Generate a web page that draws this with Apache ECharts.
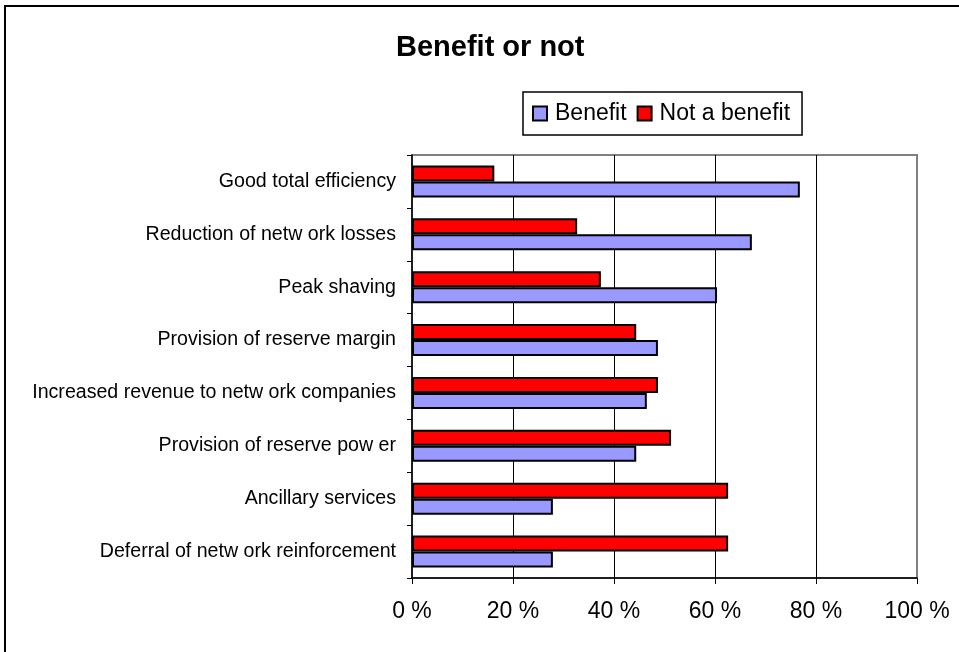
<!DOCTYPE html>
<html>
<head>
<meta charset="utf-8">
<title>Benefit or not</title>
<script src="https://cdn.jsdelivr.net/npm/echarts@6/dist/echarts.min.js"></script>
<style>
  html, body { margin: 0; padding: 0; background: #ffffff; }
  #chart { width: 959px; height: 652px; }
</style>
</head>
<body>
<div id="chart"></div>
<script>
// Categories listed from top to bottom as they appear on the chart
const categories = [
  'Good total efficiency',
  'Reduction of netw ork losses',
  'Peak shaving',
  'Provision of reserve margin',
  'Increased revenue to netw ork companies',
  'Provision of reserve pow er',
  'Ancillary services',
  'Deferral of netw ork reinforcement'
];
// Share of answers, percent
const benefit    = [76.8, 67.3, 60.4, 48.7, 46.5, 44.4, 27.9, 27.9];
const notBenefit = [16.3, 32.7, 37.4, 44.4, 48.7, 51.3, 62.6, 62.6];
const xTicks = [0, 20, 40, 60, 80, 100];

const FONT = '"Liberation Sans", Arial, sans-serif';

// Category axis runs bottom-up, so feed it reversed
const catsUp = categories.slice().reverse();
const benefitUp = benefit.slice().reverse();
const notBenefitUp = notBenefit.slice().reverse();

const chart = echarts.init(document.getElementById('chart'), null, { renderer: 'canvas' });

chart.setOption({
  animation: false,
  backgroundColor: '#ffffff',
  textStyle: { fontFamily: FONT, color: '#000' },
  graphic: [{
    type: 'rect',
    shape: { x: 5, y: 6, width: 1000, height: 700 },
    style: { fill: null, stroke: '#000', lineWidth: 2 },
    silent: true,
    z: -10
  }],
  title: {
    text: 'Benefit or not',
    left: 396,
    top: 33,
    padding: 0,
    textStyle: { fontFamily: FONT, fontSize: 29, fontWeight: 'bold', color: '#000' }
  },
  legend: {
    data: ['Benefit', 'Not a benefit'],
    left: 523,
    top: 92,
    padding: [10, 12, 10, 9],
    itemWidth: 14,
    itemHeight: 14,
    itemGap: 10,
    borderColor: '#000',
    borderWidth: 1.5,
    borderRadius: 0,
    icon: 'rect',
    textStyle: { fontFamily: FONT, fontSize: 23, color: '#000', padding: [0, 0, 0, 3] }
  },
  grid: {
    left: 412,
    right: 42,
    top: 155,
    bottom: 74,
    show: true,
    borderColor: '#808080',
    borderWidth: 2,
    backgroundColor: 'transparent',
    containLabel: false
  },
  xAxis: {
    type: 'value',
    min: xTicks[0],
    max: xTicks[xTicks.length - 1],
    interval: 20,
    axisLine: { show: true, lineStyle: { color: '#000', width: 1.5 } },
    axisTick: { show: true, length: 6, lineStyle: { color: '#000', width: 1 } },
    axisLabel: {
      margin: 22,
      fontFamily: FONT,
      fontSize: 23,
      color: '#000',
      formatter: v => v + ' %'
    },
    splitLine: {
      show: true,
      showMinLine: false,
      showMaxLine: false,
      lineStyle: { color: '#000', width: 1 }
    }
  },
  yAxis: {
    type: 'category',
    data: catsUp,
    axisLine: { show: true, lineStyle: { color: '#000', width: 1.5 } },
    axisTick: { show: true, length: 5, lineStyle: { color: '#000', width: 1 } },
    axisLabel: { margin: 16, fontFamily: FONT, fontSize: 19.6, color: '#000' },
    splitLine: { show: false }
  },
  // Red series first so it sits above the blue one within each category
  series: [
    {
      name: 'Not a benefit',
      type: 'bar',
      data: notBenefitUp,
      barWidth: 16,
      barGap: '0%',
      itemStyle: { color: '#FF0000', borderColor: '#000', borderWidth: 2 }
    },
    {
      name: 'Benefit',
      type: 'bar',
      data: benefitUp,
      barWidth: 16,
      barGap: '0%',
      itemStyle: { color: '#9999FF', borderColor: '#000', borderWidth: 2 }
    }
  ]
});
</script>
</body>
</html>
